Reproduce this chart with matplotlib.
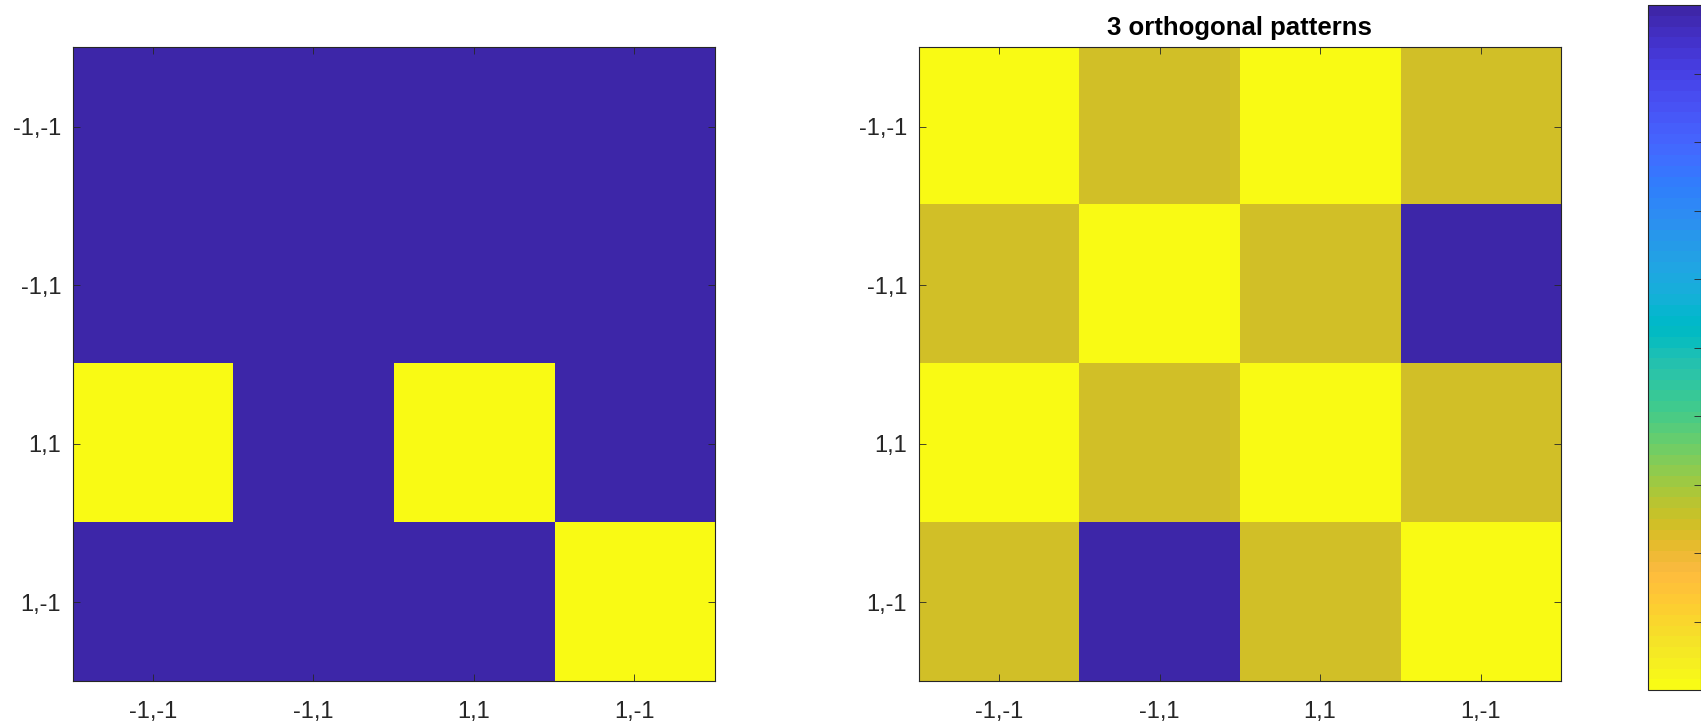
import numpy as np
import matplotlib.pyplot as plt
from matplotlib.colors import ListedColormap, Normalize
from matplotlib.cm import ScalarMappable

plt.rcParams['font.family'] = ['Liberation Sans', 'DejaVu Sans']

# state labels for rows / columns
states = ['-1,-1', '-1,1', '1,1', '1,-1']

# left panel: single pattern (0 = low, 1 = high)
pattern = np.array([
    [0, 0, 0, 0],
    [0, 0, 0, 0],
    [1, 0, 1, 0],
    [0, 0, 0, 1],
])

# right panel: 3 orthogonal patterns combined
combined = np.array([
    [4, 3, 4, 3],
    [3, 4, 3, 0],
    [4, 3, 4, 3],
    [3, 0, 3, 4],
])

title_right = '3 orthogonal patterns'
cbar_ticks = [0.1, 0.2, 0.3, 0.4, 0.5, 0.6, 0.7, 0.8, 0.9]

# MATLAB parula (64 entries)
parula_data = [
    [0.2422, 0.1504, 0.6603], [0.2504, 0.1650, 0.7076], [0.2578, 0.1818, 0.7511],
    [0.2647, 0.1978, 0.7952], [0.2706, 0.2147, 0.8364], [0.2751, 0.2342, 0.8710],
    [0.2783, 0.2559, 0.8991], [0.2803, 0.2782, 0.9221], [0.2813, 0.3006, 0.9414],
    [0.2810, 0.3228, 0.9579], [0.2795, 0.3447, 0.9717], [0.2760, 0.3667, 0.9829],
    [0.2699, 0.3892, 0.9906], [0.2602, 0.4123, 0.9952], [0.2440, 0.4358, 0.9988],
    [0.2206, 0.4603, 0.9973], [0.1963, 0.4847, 0.9892], [0.1834, 0.5074, 0.9798],
    [0.1786, 0.5289, 0.9682], [0.1764, 0.5499, 0.9520], [0.1687, 0.5703, 0.9359],
    [0.1540, 0.5902, 0.9218], [0.1460, 0.6091, 0.9079], [0.1380, 0.6276, 0.8973],
    [0.1248, 0.6459, 0.8883], [0.1113, 0.6635, 0.8763], [0.0952, 0.6798, 0.8598],
    [0.0689, 0.6948, 0.8394], [0.0297, 0.7082, 0.8163], [0.0036, 0.7203, 0.7917],
    [0.0067, 0.7312, 0.7660], [0.0433, 0.7411, 0.7394], [0.0964, 0.7500, 0.7120],
    [0.1408, 0.7584, 0.6842], [0.1717, 0.7670, 0.6554], [0.1938, 0.7758, 0.6251],
    [0.2161, 0.7843, 0.5923], [0.2470, 0.7918, 0.5567], [0.2906, 0.7973, 0.5188],
    [0.3406, 0.8008, 0.4789], [0.3909, 0.8029, 0.4354], [0.4456, 0.8024, 0.3909],
    [0.5044, 0.7993, 0.3480], [0.5616, 0.7942, 0.3045], [0.6174, 0.7876, 0.2612],
    [0.6720, 0.7793, 0.2227], [0.7242, 0.7698, 0.1910], [0.7738, 0.7598, 0.1646],
    [0.8203, 0.7498, 0.1535], [0.8634, 0.7406, 0.1596], [0.9035, 0.7330, 0.1774],
    [0.9393, 0.7288, 0.2100], [0.9728, 0.7298, 0.2394], [0.9956, 0.7434, 0.2371],
    [0.9970, 0.7659, 0.2199], [0.9952, 0.7893, 0.2028], [0.9892, 0.8136, 0.1885],
    [0.9786, 0.8386, 0.1766], [0.9676, 0.8639, 0.1643], [0.9610, 0.8890, 0.1537],
    [0.9597, 0.9135, 0.1423], [0.9628, 0.9373, 0.1265], [0.9691, 0.9606, 0.1064],
    [0.9769, 0.9839, 0.0805],
]
parula = ListedColormap(parula_data, name='parula')

axis_color = '#262626'


def style_axes(ax):
    ax.set_xticks(range(len(states)))
    ax.set_yticks(range(len(states)))
    ax.set_xticklabels(states)
    ax.set_yticklabels(states)
    ax.tick_params(axis='both', direction='in', length=5, width=0.6,
                   color=axis_color, labelcolor=axis_color, labelsize=17,
                   top=True, right=True)
    ax.tick_params(axis='x', pad=14)
    ax.tick_params(axis='y', pad=8.3)
    for s in ax.spines.values():
        s.set_color(axis_color)
        s.set_linewidth(0.8)


fig = plt.figure(figsize=(17.01, 7.24), dpi=100)

ax1 = fig.add_axes([0.0427, 0.059, 0.3775, 0.8757])
ax1.imshow(pattern, cmap=parula, aspect='auto', interpolation='nearest')
style_axes(ax1)

ax2 = fig.add_axes([0.5401, 0.059, 0.3775, 0.8757])
ax2.imshow(combined, cmap=parula, aspect='auto', interpolation='nearest')
style_axes(ax2)
ax2.set_title(title_right, fontsize=18.5, fontweight='bold', color='black', pad=8.5)

# colorbar, low values at top
cax = fig.add_axes([0.9688, 0.047, 0.0312, 0.9456])
sm = ScalarMappable(norm=Normalize(0, 1), cmap=parula)
cb = fig.colorbar(sm, cax=cax, ticks=cbar_ticks)
cax.invert_yaxis()
cax.tick_params(direction='in', length=5, width=0.6, color=axis_color,
                labelright=False)
cb.outline.set_edgecolor(axis_color)
cb.outline.set_linewidth(0.8)

fig.savefig('out.png', dpi=100)
